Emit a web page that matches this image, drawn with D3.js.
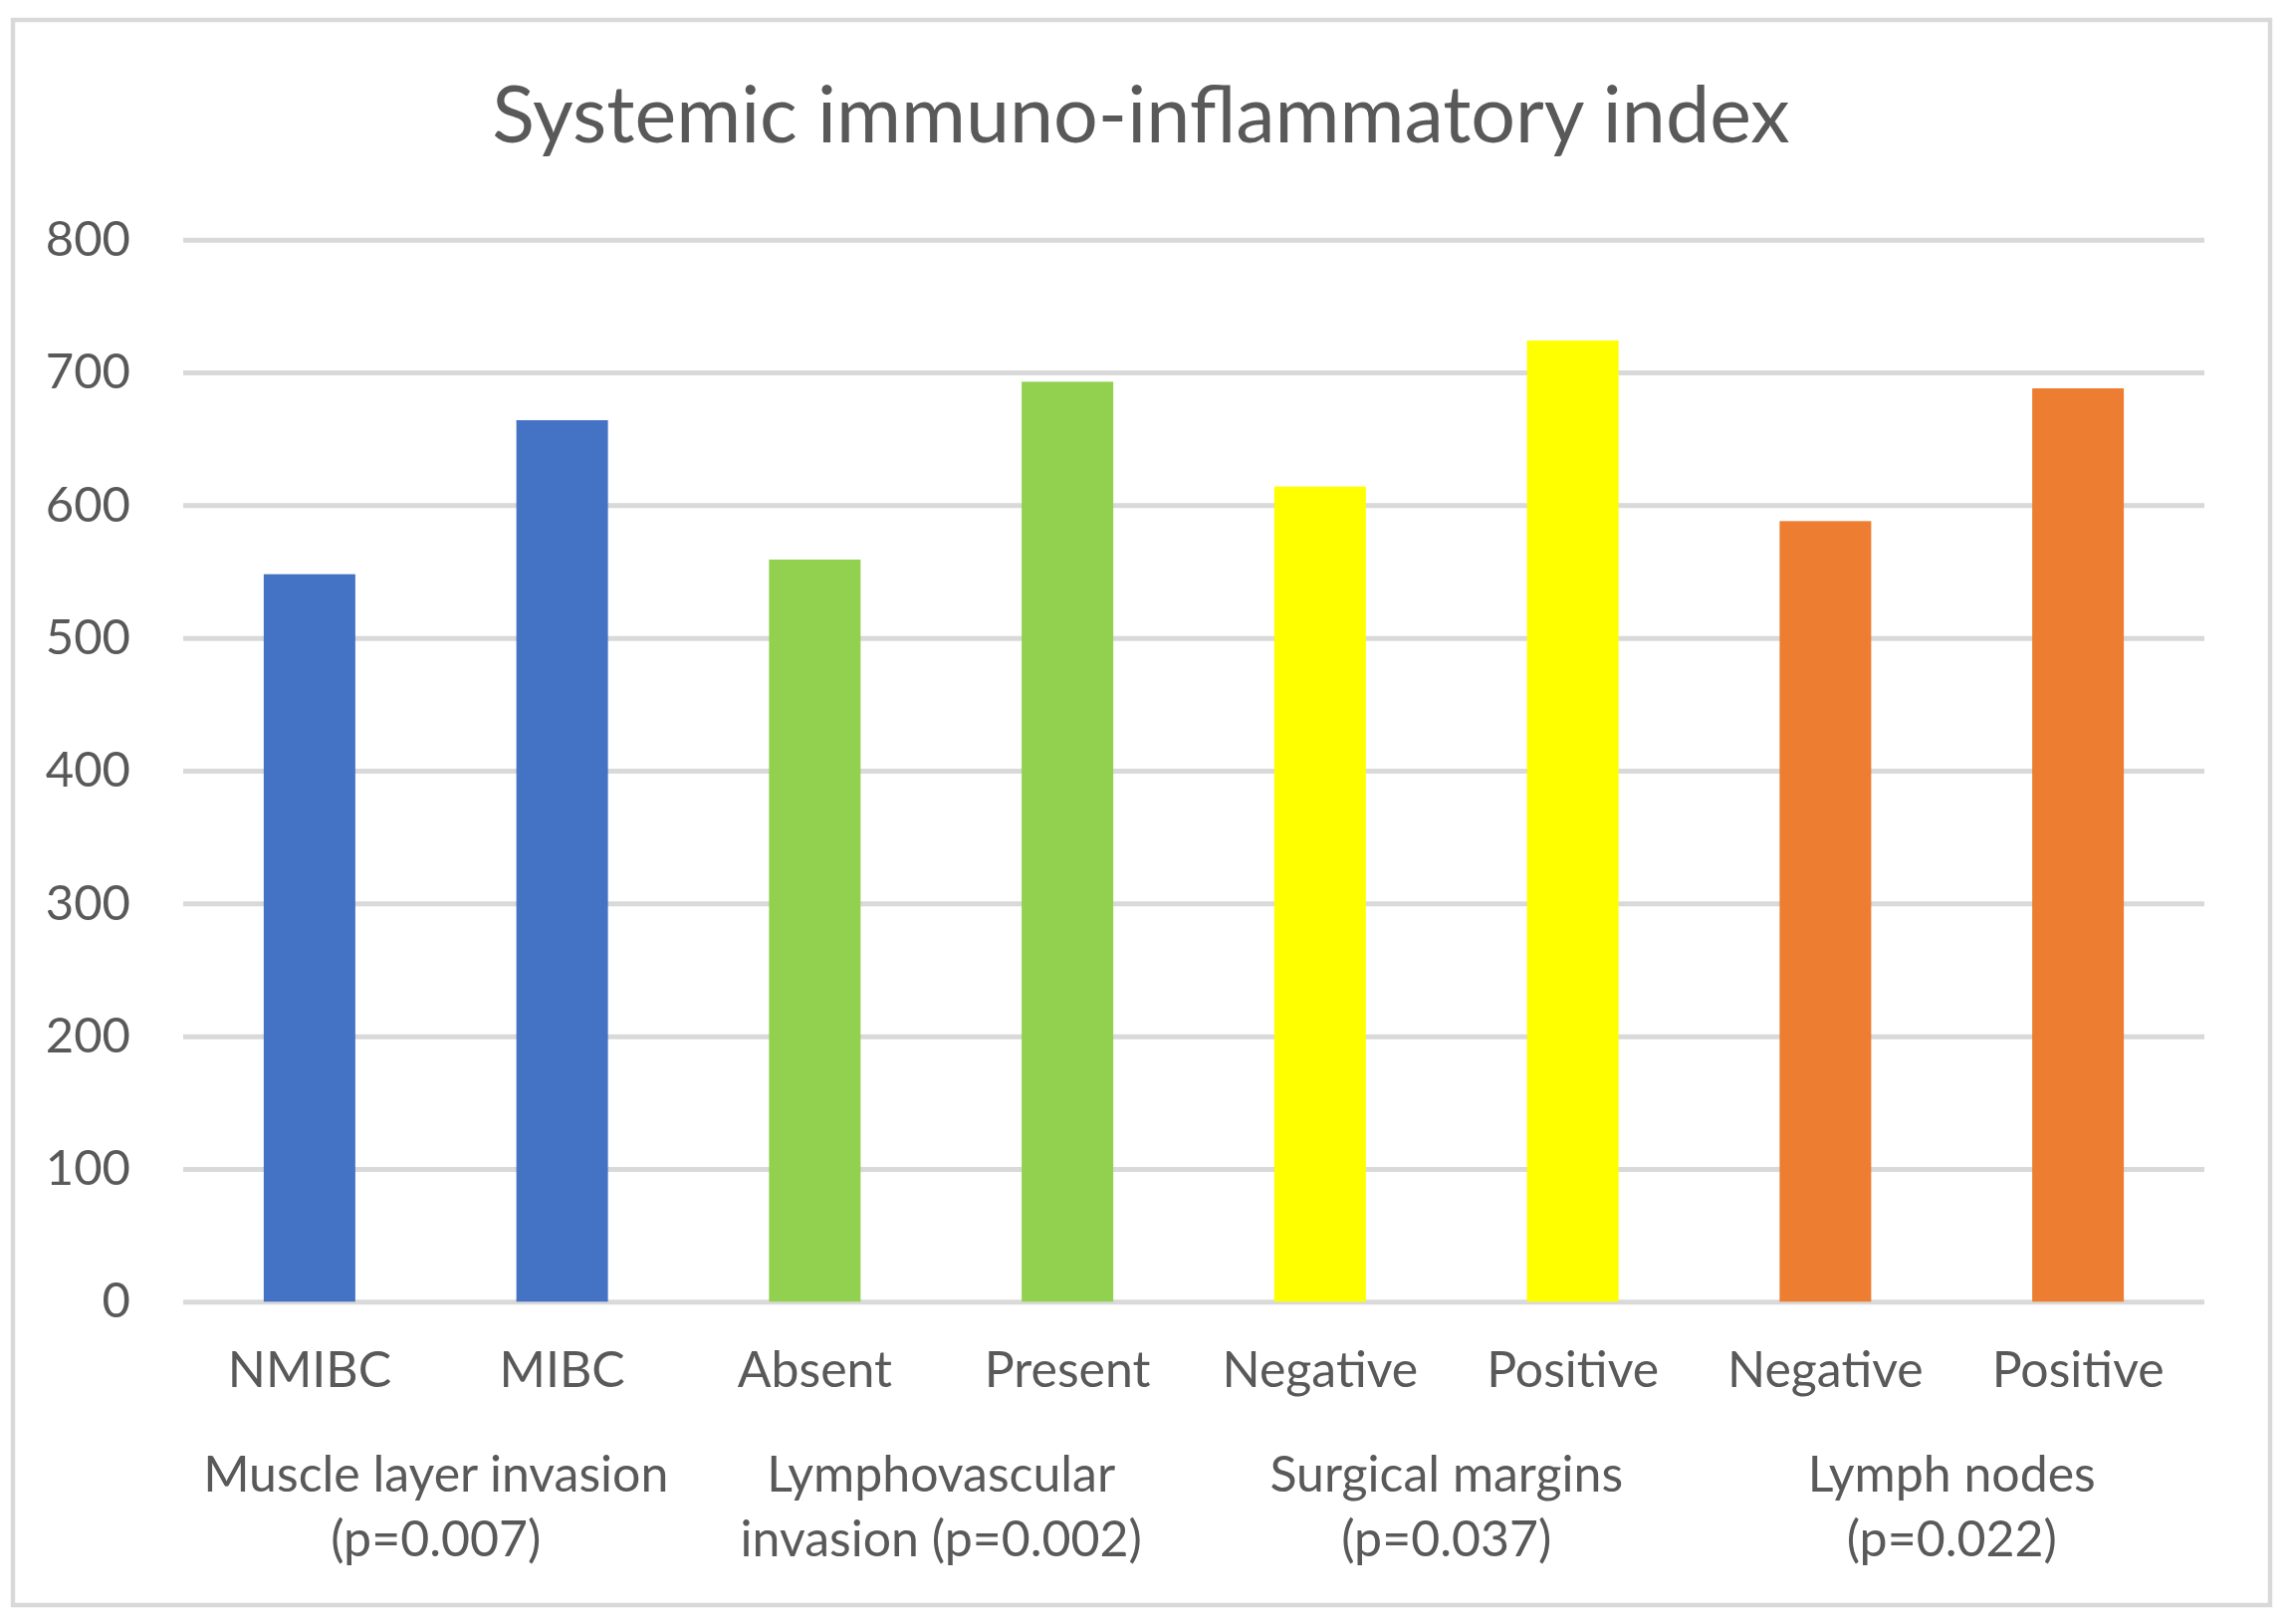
<!DOCTYPE html>
<html>
<head>
<meta charset="utf-8">
<script src="https://cdn.jsdelivr.net/npm/d3@7"></script>
<style>
  html, body { margin: 0; padding: 0; background: #ffffff; }
  svg text { font-family: Lato, "Open Sans", sans-serif; fill: #595959; }
</style>
</head>
<body>
<div id="chart"></div>
<script>
const categories = ["NMIBC", "MIBC", "Absent", "Present", "Negative", "Positive", "Negative", "Positive"];
const values = [548, 664, 559, 693, 614, 724, 588, 688];
const groupIndex = [0, 0, 1, 1, 2, 2, 3, 3];
const groupLabels = [
  ["Muscle layer invasion", "(p=0.007)"],
  ["Lymphovascular", "invasion (p=0.002)"],
  ["Surgical margins", "(p=0.037)"],
  ["Lymph nodes", "(p=0.022)"]
];
const groupColors = ["#4472c4", "#92d050", "#ffff00", "#ed7d31"];
const yTicks = [0, 100, 200, 300, 400, 500, 600, 700, 800];
const title = "Systemic immuno-inflammatory index";

const width = 2297;
const height = 1631;
const margin = { top: 240.7, right: 83, bottom: 323.7, left: 184 };
const plotW = width - margin.left - margin.right;
const plotH = height - margin.top - margin.bottom;

const svg = d3.select("#chart").append("svg")
  .attr("width", width)
  .attr("height", height);

// chart border
svg.append("rect")
  .attr("x", 13)
  .attr("y", 20)
  .attr("width", 2267)
  .attr("height", 1592)
  .attr("fill", "#ffffff")
  .attr("stroke", "#d9d9d9")
  .attr("stroke-width", 4.5);

svg.append("text")
  .attr("x", 1146)
  .attr("y", 143)
  .attr("text-anchor", "middle")
  .attr("font-size", "79px")
  .text(title);

const g = svg.append("g")
  .attr("transform", `translate(${margin.left},${margin.top})`);

const x = d3.scaleBand()
  .domain(d3.range(categories.length))
  .range([0, plotW])
  .paddingInner(0.6375)
  .paddingOuter(0.31875);

const y = d3.scaleLinear()
  .domain([0, 800])
  .range([plotH, 0]);

// gridlines + y labels
const yAxis = g.append("g")
  .call(d3.axisLeft(y).tickValues(yTicks).tickSize(-plotW).tickPadding(53));
yAxis.select(".domain").remove();
yAxis.selectAll(".tick line")
  .attr("stroke", "#d9d9d9")
  .attr("stroke-width", 5);
yAxis.selectAll(".tick text")
  .attr("font-size", "49px")
  .attr("fill", "#595959")
  .attr("font-family", "Lato, sans-serif");

// bars
g.selectAll(".bar")
  .data(values)
  .join("rect")
  .attr("class", "bar")
  .attr("x", (d, i) => x(i))
  .attr("y", d => y(d))
  .attr("width", x.bandwidth())
  .attr("height", d => y(0) - y(d))
  .attr("fill", (d, i) => groupColors[groupIndex[i]]);

// x category labels
const xAxis = g.append("g")
  .attr("transform", `translate(0,${plotH})`)
  .call(d3.axisBottom(x).tickSize(0).tickFormat(i => categories[i]));
xAxis.select(".domain").remove();
xAxis.selectAll(".tick text")
  .attr("dy", null)
  .attr("y", 86)
  .attr("font-size", "50px")
  .attr("fill", "#595959")
  .attr("font-family", "Lato, sans-serif");

// group labels
groupLabels.forEach((lines, gi) => {
  const idx = d3.range(categories.length).filter(i => groupIndex[i] === gi);
  const cx = d3.mean(idx, i => x(i) + x.bandwidth() / 2);
  const t = g.append("text")
    .attr("x", cx)
    .attr("y", plotH + 191)
    .attr("text-anchor", "middle")
    .attr("font-size", "50px");
  lines.forEach((line, li) => {
    t.append("tspan")
      .attr("x", cx)
      .attr("dy", li === 0 ? 0 : 65)
      .text(line);
  });
});
</script>
</body>
</html>
